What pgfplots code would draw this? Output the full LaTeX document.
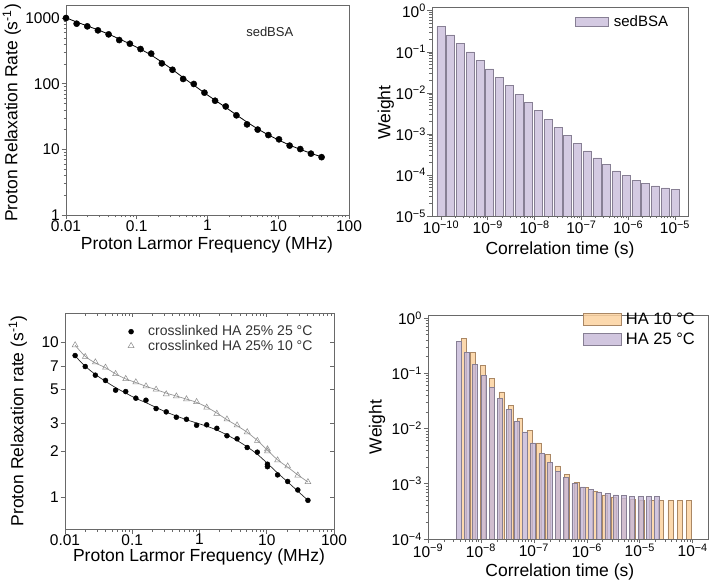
\documentclass[border=0pt]{standalone}
\usepackage{fontspec}
\setmainfont{Liberation Sans}
\usepackage{pgfplots}
\pgfplotsset{compat=1.18}

\definecolor{axgray}{RGB}{105,105,105}
\definecolor{lav}{RGB}{212,202,226}
\definecolor{lavedge}{RGB}{135,127,148}
\definecolor{lavB}{RGB}{198,184,215}
\definecolor{peach}{RGB}{252,210,160}
\definecolor{peachedge}{RGB}{170,135,100}
\definecolor{fitgray}{RGB}{150,150,150}
\definecolor{trigray}{RGB}{140,140,140}

\pgfplotsset{
  panel/.style={
    scale only axis,
    axis line style={axgray, line width=0.8pt},
    every tick/.style={axgray, line width=0.6pt},
    tick align=outside,
    xtick pos=left, ytick pos=left,
    major tick length=4.5pt,
    minor tick length=2.5pt,
    tick label style={font=\fontsize{15.5}{15.5}\selectfont, black, inner sep=1.5pt},
    xticklabel shift=-1pt,
    label style={font=\fontsize{17.5}{17.5}\selectfont, black},
    /pgf/number format/assume math mode=true,
  },
  barlegend/.style={legend image code/.code={\draw[##1] (0pt,-4.5pt) rectangle (33pt,4.5pt);}},
  barlegendwide/.style={legend image code/.code={\draw[##1] (0pt,-6pt) rectangle (38pt,6pt);}},
  marklegend/.style={legend image code/.code={\path[draw=none,fill=none] (0pt,0pt) -- (19pt,0pt); \draw[##1] plot coordinates {(4pt,0pt)};}},
}

% relaxation profile, sedimented BSA
\pgfplotstableread{
nu      R1
0.01    1000
0.01414 820
0.02    747
0.02828 649
0.04    564
0.05657 462
0.08    406
0.1131  337
0.16    287
0.2263  204
0.32    163
0.4525  118
0.64    99
0.9051  73
1.28    55
1.810   45
2.56    33
3.620   24
5.12    20
7.241   16.5
10.24   14.2
14.48   11.4
20.48   10.1
28.96   8.6
40.96   7.6
}\bsadata

\pgfplotstableread{
nu      R1
0.01    1010
0.01414 870
0.02    758
0.02828 660
0.04    568
0.05657 480
0.08    404
0.1131  336
0.16    272
0.2263  213
0.32    164
0.4525  124
0.64    95
0.9051  72.5
1.28    56
1.810   43.5
2.56    33.5
3.620   26
5.12    20.5
7.241   16.6
10.24   13.8
14.48   11.6
20.48   10
28.96   8.7
40.96   7.7
}\bsafit

% correlation time distribution, sedimented BSA
\pgfplotstableread{
tau        w
1.0000e-10 0.41
1.6155e-10 0.257
2.6102e-10 0.161
4.2170e-10 0.099
6.8129e-10 0.0617
1.1007e-9  0.0385
1.7783e-9  0.0237
2.8730e-9  0.0151
4.6416e-9  0.00925
7.4989e-9  0.00578
1.2115e-8  0.00368
1.9573e-8  0.00229
3.1623e-8  0.00144
5.1090e-8  0.00091
8.2540e-8  0.00058
1.3335e-7  0.000386
2.1544e-7  0.000259
3.4807e-7  0.000178
5.6234e-7  0.000125
9.0851e-7  0.0000955
1.4678e-6  0.000075
2.3714e-6  0.000063
3.8312e-6  0.0000543
6.1897e-6  0.0000485
1.0000e-5  0.0000451
}\bsadist

% crosslinked HA, 25 C
\pgfplotstableread{
nu      R1
0.01414 8.2
0.02    6.97
0.02828 6.13
0.04    5.67
0.05657 4.91
0.08    4.81
0.1131  4.36
0.16    4.23
0.2263  3.74
0.32    3.56
0.4525  3.29
0.64    3.19
0.9051  2.92
1.28    2.94
1.810   2.79
2.56    2.50
3.620   2.39
5.12    2.10
7.241   1.96
10.24   1.64
10.24   1.58
14.48   1.40
20.48   1.27
28.96   1.12
40.96   0.96
}\hawarm

\pgfplotstableread{
nu      R1
0.01414 8.15
0.02    7.0
0.02828 6.2
0.04    5.6
0.05657 5.1
0.08    4.7
0.1131  4.35
0.16    4.08
0.2263  3.8
0.32    3.55
0.4525  3.35
0.64    3.17
0.9051  3.02
1.28    2.88
1.810   2.72
2.56    2.53
3.620   2.33
5.12    2.12
7.241   1.9
10.24   1.66
14.48   1.44
20.48   1.26
28.96   1.1
40.96   0.96
}\hawarmfit

% crosslinked HA, 10 C
\pgfplotstableread{
nu      R1
0.01414 9.57
0.02    8.05
0.02828 7.43
0.04    6.87
0.05657 6.25
0.08    5.81
0.1131  5.53
0.16    5.21
0.2263  4.96
0.32    4.63
0.4525  4.49
0.64    4.30
0.9051  4.13
1.28    3.80
1.810   3.47
2.56    3.19
3.620   2.92
5.12    2.64
7.241   2.32
10.24   2.05
10.24   1.99
14.48   1.74
20.48   1.59
28.96   1.39
40.96   1.26
}\hacold

\pgfplotstableread{
nu      R1
0.01414 9.55
0.02    8.1
0.02828 7.35
0.04    6.85
0.05657 6.25
0.08    5.8
0.1131  5.5
0.16    5.2
0.2263  4.95
0.32    4.7
0.4525  4.5
0.64    4.3
0.9051  4.1
1.28    3.82
1.810   3.5
2.56    3.17
3.620   2.9
5.12    2.63
7.241   2.33
10.24   2.02
14.48   1.75
20.48   1.57
28.96   1.4
40.96   1.26
}\hacoldfit

% correlation time distributions, HA
\pgfplotstableread{
tau       w
4.732e-9  0.42
7.119e-9  0.24
1.071e-8  0.138
1.612e-8  0.080
2.425e-8  0.046
3.648e-8  0.0265
5.489e-8  0.0155
8.258e-8  0.0092
1.242e-7  0.0055
1.869e-7  0.0034
2.812e-7  0.0021
4.231e-7  0.00147
6.365e-7  0.00105
9.576e-7  0.00085
1.441e-6  0.00072
2.168e-6  0.00063
3.261e-6  0.00058
4.907e-6  0.00054
7.382e-6  0.00052
1.111e-5  0.00051
1.671e-5  0.00050
2.514e-5  0.00050
3.782e-5  0.00050
5.690e-5  0.00050
8.561e-5  0.00050
}\hacolddist

\pgfplotstableread{
tau       w
3.811e-9  0.38
5.458e-9  0.235
7.816e-9  0.145
1.119e-8  0.090
1.603e-8  0.055
2.296e-8  0.035
3.289e-8  0.022
4.710e-8  0.0135
6.745e-8  0.0087
9.661e-8  0.0055
1.384e-7  0.0035
1.982e-7  0.0024
2.838e-7  0.0017
4.064e-7  0.0013
5.821e-7  0.00103
8.337e-7  0.00088
1.194e-6  0.00078
1.710e-6  0.00071
2.449e-6  0.00066
3.508e-6  0.00063
5.023e-6  0.00061
7.194e-6  0.00060
1.030e-5  0.00059
1.476e-5  0.00059
2.113e-5  0.00059
}\hawarmdist

\begin{document}
\begin{tikzpicture}[x=1pt,y=1pt]
\useasboundingbox (0,0) rectangle (709,587);

% ---------------- upper left: relaxation profile ----------------
\begin{axis}[panel,
  at={(66pt,372pt)}, anchor=south west,
  width=283pt, height=210pt,
  xmode=log, ymode=log,
  xmin=0.01, xmax=100, ymin=1, ymax=1580,
  xtick={0.01,0.1,1,10,100}, xticklabels={0.01,0.1,1,10,100},
  ytick={1,10,100,1000}, yticklabels={1,10,100,1000},
  xlabel={Proton Larmor Frequency (MHz)},
  ylabel={Proton Relaxation Rate (s\textsuperscript{-1})},
  xlabel style={at={(axis description cs:0.498,-0.143)}, anchor=center},
  ylabel style={at={(axis description cs:-0.191,0.486)}, anchor=center},
]
\addplot[black, line width=0.8pt, smooth] table[x=nu,y=R1] {\bsafit};
\addplot[only marks, mark=*, mark size=3.1pt, black] table[x=nu,y=R1] {\bsadata};
\node[font=\fontsize{13}{13}\selectfont, text=black!85] at (axis description cs:0.72,0.871) {sedBSA};
\end{axis}

% ---------------- upper right: distribution ----------------
\begin{axis}[panel, axis on top,
  at={(432pt,371pt)}, anchor=south west,
  width=256pt, height=208.5pt,
  xmode=log, ymode=log, log origin y=infty,
  xmin=6.43e-11, xmax=1.9e-5, ymin=1e-5, ymax=1.2,
  xtick={1e-10,1e-9,1e-8,1e-7,1e-6,1e-5},
  xticklabels={10\textsuperscript{−10},10\textsuperscript{−9},10\textsuperscript{−8},10\textsuperscript{−7},10\textsuperscript{−6},10\textsuperscript{−5}},
  ytick={1e-5,1e-4,1e-3,1e-2,1e-1,1},
  yticklabels={10\textsuperscript{−5},10\textsuperscript{−4},10\textsuperscript{−3},10\textsuperscript{−2},10\textsuperscript{−1},10\textsuperscript{0}},
  xlabel={Correlation time (s)}, ylabel={Weight},
  xlabel style={at={(axis description cs:0.5,-0.165)}, anchor=center},
  ylabel style={at={(axis description cs:-0.18,0.496)}, anchor=center},
  legend style={at={(axis description cs:0.547,0.930)}, anchor=west, draw=none, fill=none,
    font=\fontsize{15}{15}\selectfont},
]
\addplot[ybar, bar width=8pt, bar shift=0pt, fill=lav, draw=lavedge, line width=0.6pt, barlegend]
  table[x=tau,y=w] {\bsadist};
\addlegendentry{\hspace{3pt}sedBSA}
\end{axis}

% ---------------- lower left: HA relaxation profiles ----------------
\begin{axis}[panel,
  at={(65pt,58pt)}, anchor=south west,
  width=269pt, height=216pt,
  xmode=log, ymode=log,
  xmin=0.01, xmax=100, ymin=0.628, ymax=15.4,
  xtick={0.01,0.1,1,10,100}, xticklabels={0.01,0.1,1,10,100},
  ytick={1,2,3,5,7,10}, yticklabels={1,2,3,5,7,10}, minor ytick={},
  xlabel={Proton Larmor Frequency (MHz)},
  ylabel={Proton Relaxation rate (s\textsuperscript{-1})},
  xlabel style={at={(axis description cs:0.498,-0.13)}, anchor=center},
  ylabel style={at={(axis description cs:-0.175,0.5)}, anchor=center},
  legend style={at={(axis description cs:0.219,0.960)}, anchor=north west, draw=none, fill=none,
    font=\fontsize{14}{14}\selectfont, text=black!80, row sep=-1.5pt},
  legend cell align=left,
]
\addplot[black!85, line width=0.7pt, smooth, forget plot] table[x=nu,y=R1] {\hawarmfit};
\addplot[fitgray, line width=0.7pt, smooth, forget plot] table[x=nu,y=R1] {\hacoldfit};
\addplot[only marks, mark=*, mark size=2.5pt, black, marklegend] table[x=nu,y=R1] {\hawarm};
\addlegendentry{crosslinked HA 25\% 25 °C}
\addplot[only marks, mark=triangle, mark size=3.4pt, trigray, mark options={fill=white, line width=0.5pt}, marklegend] table[x=nu,y=R1] {\hacold};
\addlegendentry{crosslinked HA 25\% 10 °C}
\end{axis}
% mirrored ticks pointing inward on top and right
\begin{axis}[scale only axis,
  at={(65pt,58pt)}, anchor=south west,
  width=269pt, height=216pt,
  xmode=log, ymode=log,
  xmin=0.01, xmax=100, ymin=0.628, ymax=15.4,
  xtick={0.01,0.1,1,10,100}, ytick={1,2,3,5,7,10}, minor ytick={},
  xticklabels={}, yticklabels={},
  axis line style={draw=none},
  every tick/.style={axgray, line width=0.6pt},
  tick align=inside, xtick pos=right, ytick pos=right,
  major tick length=4.5pt, minor tick length=2.5pt,
]
\end{axis}

% ---------------- lower right: HA distributions ----------------
\begin{axis}[panel, axis on top,
  at={(428pt,48pt)}, anchor=south west,
  width=280pt, height=224pt,
  xmode=log, ymode=log, log origin y=infty,
  xmin=1e-9, xmax=1.945e-4, ymin=1e-4, ymax=1.13,
  xtick={1e-9,1e-8,1e-7,1e-6,1e-5,1e-4},
  xticklabels={10\textsuperscript{−9},10\textsuperscript{−8},10\textsuperscript{−7},10\textsuperscript{−6},10\textsuperscript{−5},10\textsuperscript{−4}},
  ytick={1e-4,1e-3,1e-2,1e-1,1},
  yticklabels={10\textsuperscript{−4},10\textsuperscript{−3},10\textsuperscript{−2},10\textsuperscript{−1},10\textsuperscript{0}},
  xlabel={Correlation time (s)}, ylabel={Weight},
  xlabel style={at={(axis description cs:0.471,-0.145)}, anchor=center},
  ylabel style={at={(axis description cs:-0.182,0.5)}, anchor=center},
  legend style={at={(axis description cs:0.543,0.9375)}, anchor=west, draw=none, fill=none,
    font=\fontsize{16.5}{16.5}\selectfont, row sep=3pt},
  legend cell align=left,
]
\addplot[ybar, bar width=5pt, bar shift=0pt, fill=peach, fill opacity=0.85, draw=peachedge, line width=0.6pt, barlegendwide]
  table[x=tau,y=w] {\hacolddist};
\addlegendentry{\hspace{2pt}HA 10 °C}
\addplot[ybar, bar width=5pt, bar shift=0pt, fill=lavB, fill opacity=0.8, draw=lavedge, line width=0.6pt, barlegendwide]
  table[x=tau,y=w] {\hawarmdist};
\addlegendentry{\hspace{2pt}HA 25 °C}
\end{axis}
\end{tikzpicture}
\end{document}
